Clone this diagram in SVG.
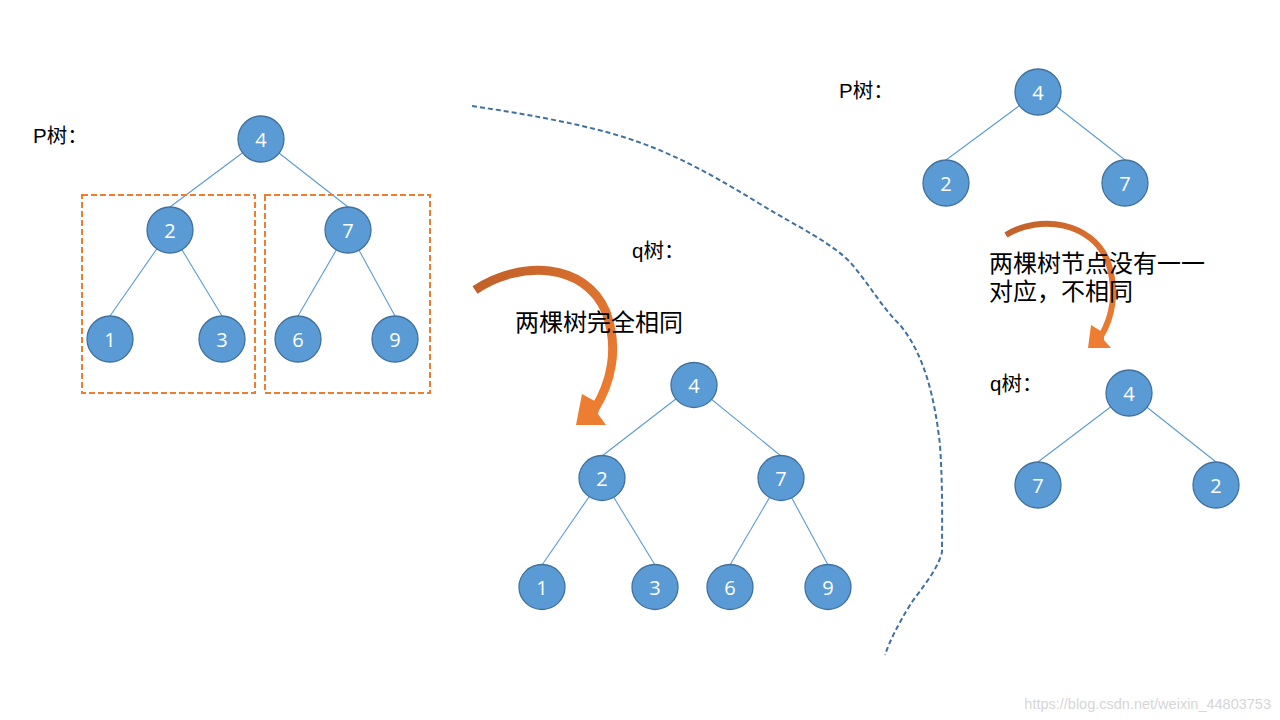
<svg xmlns="http://www.w3.org/2000/svg" width="1280" height="720" viewBox="0 0 1280 720">
<defs>
<style>
.node circle,.node ellipse{fill:#5B9BD5;stroke:#41719C;stroke-width:1.3}
.node text{fill:#fff;font-family:"Open Sans","Liberation Sans",sans-serif;font-size:20px;text-anchor:middle;dominant-baseline:central}
.edge{stroke:#5B9BD5;stroke-width:1.1;fill:none}
.lbl{font-family:"Liberation Sans","Noto Sans CJK SC",sans-serif;font-size:20.5px;fill:#000}
.cn{font-family:"Noto Sans CJK SC",sans-serif;font-size:24px;fill:#000}
.box{fill:none;stroke:#ED7D31;stroke-width:2;stroke-dasharray:6 3}
</style>
<linearGradient id="g1" gradientUnits="userSpaceOnUse" x1="480" y1="270" x2="610" y2="400">
<stop offset="0" stop-color="#BE5F28"/><stop offset="0.45" stop-color="#D9702F"/><stop offset="1" stop-color="#ED7D31"/>
</linearGradient>
<linearGradient id="g2" gradientUnits="userSpaceOnUse" x1="1005" y1="220" x2="1110" y2="345">
<stop offset="0" stop-color="#BE5F28"/><stop offset="0.45" stop-color="#D9702F"/><stop offset="1" stop-color="#ED7D31"/>
</linearGradient>
</defs>
<rect width="1280" height="720" fill="#fff"/>

<g id="divider">
<path d="M472,106 C520,113 570,122 610,133 C660,147 700,167 760,204 C800,228 830,242 850,262 C870,285 880,305 900,325 C925,355 935,400 940,445 C943,490 942,530 942,552 C938,570 920,590 910,605 C898,625 890,640 885,655" fill="none" stroke="#41719C" stroke-width="2" stroke-dasharray="5 3"/>
</g>

<g id="connectors">
<line class="edge" x1="261" y1="139" x2="170" y2="207"/>
<line class="edge" x1="261" y1="139" x2="348" y2="207"/>
<line class="edge" x1="170" y1="230" x2="110" y2="316"/>
<line class="edge" x1="170" y1="230" x2="222" y2="316"/>
<line class="edge" x1="348" y1="230" x2="298" y2="316"/>
<line class="edge" x1="348" y1="230" x2="395" y2="316"/>

<line class="edge" x1="694" y1="385" x2="602" y2="456"/>
<line class="edge" x1="694" y1="385" x2="781" y2="456"/>
<line class="edge" x1="602" y1="478" x2="542" y2="565"/>
<line class="edge" x1="602" y1="478" x2="655" y2="565"/>
<line class="edge" x1="781" y1="478" x2="730" y2="565"/>
<line class="edge" x1="781" y1="478" x2="828" y2="565"/>

<line class="edge" x1="1038" y1="92" x2="946" y2="160"/>
<line class="edge" x1="1038" y1="92" x2="1125" y2="160"/>

<line class="edge" x1="1129" y1="393" x2="1038" y2="462"/>
<line class="edge" x1="1129" y1="393" x2="1216" y2="462"/>
</g>

<g id="subtree-boxes">
<rect class="box" x="82" y="195" width="173" height="198"/>
<rect class="box" x="265" y="195" width="165" height="198"/>
</g>

<g id="labels">
<text class="lbl" x="33" y="143">P树：</text>
<text class="lbl" x="632" y="258">q树：</text>
<text class="lbl" x="839" y="98">P树：</text>
<text class="lbl" x="990" y="391">q树：</text>
</g>

<g id="arrow-same">
<path d="M475,290 C520,260 585,262 606,312 C620,350 610,385 594,410" fill="none" stroke="url(#g1)" stroke-width="9"/>
<polygon points="582,394 576,425 606,425 598,414 600,404" fill="#ED7D31"/>
</g>
<g id="arrow-diff">
<path d="M1006,235 C1040,214 1092,222 1108,262 C1118,292 1112,318 1101,336" fill="none" stroke="url(#g2)" stroke-width="6"/>
<polygon points="1091,325 1088,348 1111,348 1104,340 1104,333" fill="#ED7D31"/>
</g>

<g id="text-same"><text class="cn" x="515" y="331">两棵树完全相同</text></g>
<g id="text-diff">
<text class="cn" x="989" y="272"><tspan x="989" y="272">两棵树节点没有一一</tspan><tspan x="989" y="300">对应，不相同</tspan></text>
</g>

<g id="p1-4" class="node"><circle cx="261" cy="139" r="23"/><text x="261" y="139">4</text></g>
<g id="p1-2" class="node"><circle cx="170" cy="230" r="23"/><text x="170" y="230">2</text></g>
<g id="p1-7" class="node"><circle cx="348" cy="230" r="23"/><text x="348" y="230">7</text></g>
<g id="p1-1" class="node"><circle cx="110" cy="339" r="23"/><text x="110" y="339">1</text></g>
<g id="p1-3" class="node"><circle cx="222" cy="339" r="23"/><text x="222" y="339">3</text></g>
<g id="p1-6" class="node"><circle cx="298" cy="339" r="23"/><text x="298" y="339">6</text></g>
<g id="p1-9" class="node"><circle cx="395" cy="339" r="23"/><text x="395" y="339">9</text></g>

<g id="q1-4" class="node"><ellipse cx="694" cy="385" rx="23" ry="22.5"/><text x="694" y="385">4</text></g>
<g id="q1-2" class="node"><ellipse cx="602" cy="478" rx="23" ry="22.5"/><text x="602" y="478">2</text></g>
<g id="q1-7" class="node"><ellipse cx="781" cy="478" rx="23" ry="22.5"/><text x="781" y="478">7</text></g>
<g id="q1-1" class="node"><ellipse cx="542" cy="587" rx="23" ry="22.5"/><text x="542" y="587">1</text></g>
<g id="q1-3" class="node"><ellipse cx="655" cy="587" rx="23" ry="22.5"/><text x="655" y="587">3</text></g>
<g id="q1-6" class="node"><ellipse cx="730" cy="587" rx="23" ry="22.5"/><text x="730" y="587">6</text></g>
<g id="q1-9" class="node"><ellipse cx="828" cy="587" rx="23" ry="22.5"/><text x="828" y="587">9</text></g>

<g id="p2-4" class="node"><circle cx="1038" cy="92" r="23"/><text x="1038" y="92">4</text></g>
<g id="p2-2" class="node"><circle cx="946" cy="183" r="23"/><text x="946" y="183">2</text></g>
<g id="p2-7" class="node"><circle cx="1125" cy="183" r="23"/><text x="1125" y="183">7</text></g>

<g id="q2-4" class="node"><circle cx="1129" cy="393" r="23"/><text x="1129" y="393">4</text></g>
<g id="q2-7" class="node"><circle cx="1038" cy="485" r="23"/><text x="1038" y="485">7</text></g>
<g id="q2-2" class="node"><circle cx="1216" cy="485" r="23"/><text x="1216" y="485">2</text></g>

<text x="1271" y="709" text-anchor="end" font-family="Liberation Sans, sans-serif" font-size="14.5" fill="#D6D6D6">https://blog.csdn.net/weixin_44803753</text>
</svg>
